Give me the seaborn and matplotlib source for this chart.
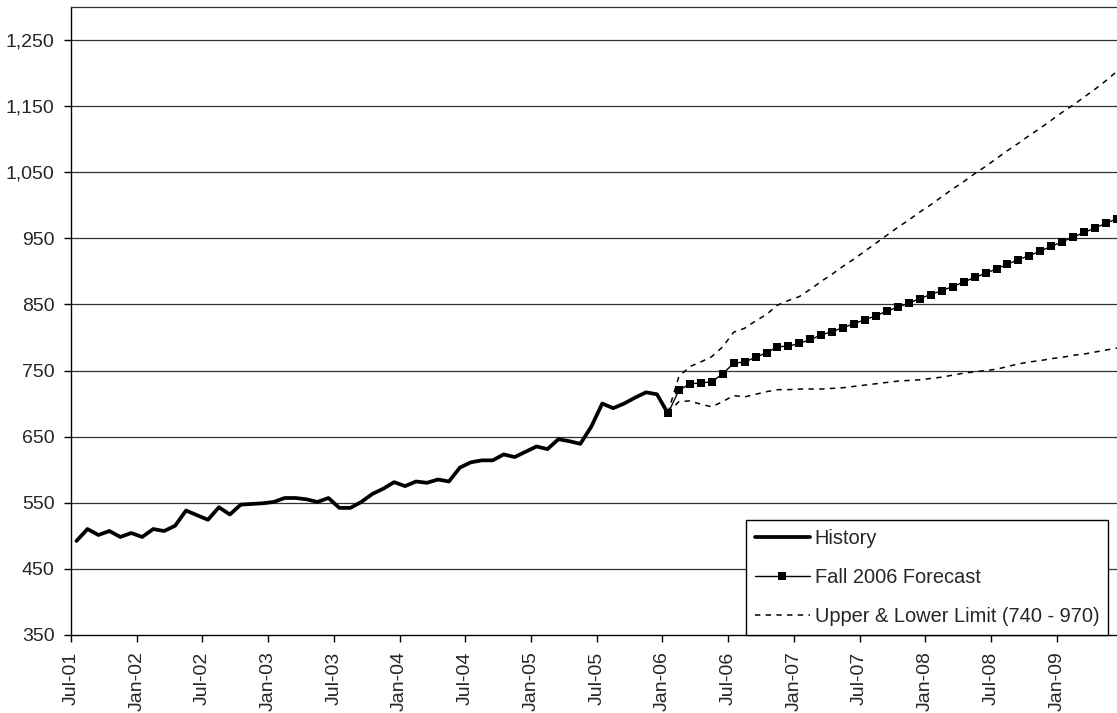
import numpy as np
import pandas as pd
import seaborn as sns
import matplotlib.pyplot as plt
from matplotlib.ticker import FuncFormatter

# monthly values, index 0 = Jul-01
history = [492, 510, 501, 507, 498, 504, 498, 510, 507, 515,
           538, 531, 524, 543, 532, 547, 548, 549, 551, 557,
           557, 555, 551, 557, 542, 542, 551, 563, 571, 581,
           575, 582, 580, 585, 582, 603, 611, 614, 614, 623,
           619, 627, 635, 631, 646, 643, 639, 665, 700, 693,
           700, 709, 717, 714, 685]

# forecast and limits start at Jan-06 (index 54)
forecast = [685, 720, 730, 731, 733, 745, 761, 763, 770, 777,
            786, 787, 791, 797, 804, 809, 815, 821, 827, 833,
            840, 846, 852, 859, 865, 871, 877, 884, 891, 897,
            904, 911, 918, 924, 931, 938, 945, 952, 959, 966,
            973, 980]
upper = [686, 741, 756, 763, 771, 786, 808, 814, 825, 835,
         849, 856, 862, 873, 885, 896, 908, 919, 931, 943,
         955, 967, 978, 990, 1001, 1013, 1025, 1036, 1048, 1059,
         1071, 1083, 1094, 1106, 1117, 1129, 1141, 1152, 1164, 1176,
         1189, 1203]
lower = [686, 703, 704, 699, 695, 703, 712, 710, 714, 718,
         721, 721, 722, 722, 722, 723, 724, 726, 728, 730,
         732, 734, 735, 736, 738, 740, 743, 746, 748, 750,
         752, 756, 760, 763, 765, 768, 770, 773, 775, 778,
         781, 784]

tick_labels = ['Jul-01', 'Jan-02', 'Jul-02', 'Jan-03', 'Jul-03', 'Jan-04',
               'Jul-04', 'Jan-05', 'Jul-05', 'Jan-06', 'Jul-06', 'Jan-07',
               'Jul-07', 'Jan-08', 'Jul-08', 'Jan-09']

hist_x = np.arange(len(history))
fc_x = np.arange(len(history) - 1, len(history) - 1 + len(forecast))

sns.set_style('white')
plt.rcParams['font.family'] = ['Liberation Sans', 'DejaVu Sans']
plt.rcParams['font.size'] = 14

fig = plt.figure(figsize=(11.17, 7.13), dpi=100)
ax = fig.add_axes([0.0636, 0.1098, 0.9364, 0.88])

ax.set_ylim(350, 1300)
ax.set_xlim(-0.5, 95.0)
yt = np.arange(350, 1300, 100)
ax.set_yticks(yt)
for v in yt[1:]:
    ax.axhline(v, color='#333333', lw=0.9, zorder=0)

sns.lineplot(x=hist_x, y=history, ax=ax, color='black', lw=2.7,
             label='History', zorder=3)
sns.lineplot(x=fc_x, y=forecast, ax=ax, color='black', lw=1.0,
             marker='s', markersize=5.5, markeredgewidth=0,
             label='Fall 2006 Forecast', zorder=4)
sns.lineplot(x=fc_x, y=upper, ax=ax, color='black', lw=1.1,
             linestyle=(0, (3.5, 3.5)), label='Upper & Lower Limit (740 - 970)', zorder=2)
sns.lineplot(x=fc_x, y=lower, ax=ax, color='black', lw=1.1,
             linestyle=(0, (3.5, 3.5)), zorder=2)

ax.set_xticks(np.arange(len(tick_labels)) * 6 - 0.5)
ax.set_xticklabels(tick_labels, rotation=90)
ax.yaxis.set_major_formatter(FuncFormatter(lambda v, p: f'{int(v):,}'))
ax.tick_params(axis='both', direction='out', length=5, width=1, color='black',
               pad=7, labelsize=14, left=True, bottom=True)

for s in ['left', 'bottom']:
    ax.spines[s].set_color('black')
    ax.spines[s].set_linewidth(1.0)
ax.spines['top'].set_color('#333333')
ax.spines['top'].set_linewidth(0.9)
ax.spines['right'].set_visible(False)

leg = ax.legend(loc='lower left', bbox_to_anchor=(0.645, 0.0), borderaxespad=0,
                frameon=True, fancybox=False, framealpha=1, edgecolor='black',
                handlelength=2.75, handletextpad=0.25, labelspacing=1.0,
                borderpad=0.45, fontsize=14.4)
leg.get_frame().set_linewidth(1.0)
leg.set_zorder(10)

ax.set_xlabel('')
ax.set_ylabel('')
fig.savefig('out.png', dpi=100)
